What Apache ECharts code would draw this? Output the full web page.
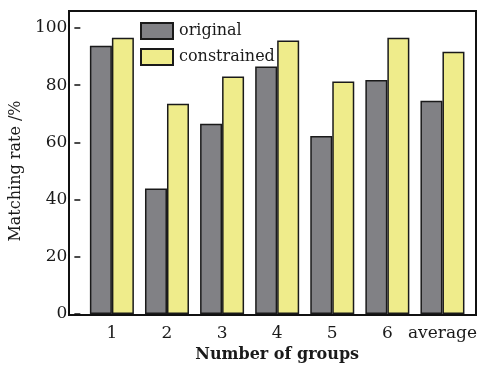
<!DOCTYPE html>
<html><head><meta charset="utf-8">
<script src="https://cdn.jsdelivr.net/npm/echarts@6/dist/echarts.min.js"></script>
<style>html,body{margin:0;padding:0;background:#fff}#c{width:493px;height:368px}</style>
</head><body><div id="c"></div>
<script>
const categories = ['1','2','3','4','5','6','average'];
const original = [93.8, 43.9, 66.5, 86.5, 62.2, 81.8, 74.6];
const constrained = [96.6, 73.5, 83.0, 95.6, 81.3, 96.6, 91.7];
const yMin = 0, yMax = 100, yStep = 20;

const FONT = 'DejaVu Serif';
const TXT = '#1a1a1a';
const chart = echarts.init(document.getElementById('c'), null, {renderer:'canvas'});
chart.setOption({
  animation: false,
  backgroundColor: '#fff',
  textStyle: {fontFamily: FONT, color: TXT},
  legend: {
    left: 135, top: 17, orient: 'vertical', icon: 'rect',
    itemWidth: 32, itemHeight: 16, itemGap: 8,
    textStyle: {fontFamily: FONT, fontSize: 16, color: TXT, padding: [0,0,0,1]},
    data: ['original','constrained']
  },
  grid: [
    {left: 69, right: 17, top: 11, bottom: 53, show: true, borderColor: '#111', borderWidth: 2, backgroundColor: 'transparent'},
    {left: 79, right: 23, top: 28, bottom: 53}
  ],
  xAxis: [
    {gridIndex: 0, type: 'value', show: false, min: 0, max: 1},
    {gridIndex: 1, type: 'category', data: categories,
     axisLine: {show: false}, axisTick: {show: false},
     axisLabel: {interval: 0, fontFamily: FONT, fontSize: 17, color: TXT, margin: 11},
     name: 'Number of groups', nameLocation: 'middle', nameGap: 33,
     nameTextStyle: {fontFamily: FONT, fontSize: 16, fontWeight: 'bold', color: TXT}}
  ],
  yAxis: [
    {gridIndex: 0, type: 'value', show: false, min: 0, max: 1},
    {gridIndex: 1, type: 'value', min: yMin, max: yMax, interval: yStep, offset: 10,
     axisLine: {show: false},
     axisTick: {show: true, inside: true, length: 6, lineStyle: {color: '#111', width: 1.5}},
     splitLine: {show: false},
     axisLabel: {fontFamily: FONT, fontSize: 17, color: TXT, margin: 7},
     name: 'Matching rate /%', nameLocation: 'middle', nameGap: 41,
     nameTextStyle: {fontFamily: FONT, fontSize: 16, color: TXT}}
  ],
  series: [
    {name: 'original', type: 'bar', xAxisIndex: 1, yAxisIndex: 1, data: original,
     barWidth: 22, barGap: '0%',
     itemStyle: {color: '#818185', borderColor: '#1a1a1a', borderWidth: 1.5}},
    {name: 'constrained', type: 'bar', xAxisIndex: 1, yAxisIndex: 1, data: constrained,
     barWidth: 22, barGap: '0%',
     itemStyle: {color: '#efec8b', borderColor: '#1a1a1a', borderWidth: 1.5}}
  ]
});
</script></body></html>
